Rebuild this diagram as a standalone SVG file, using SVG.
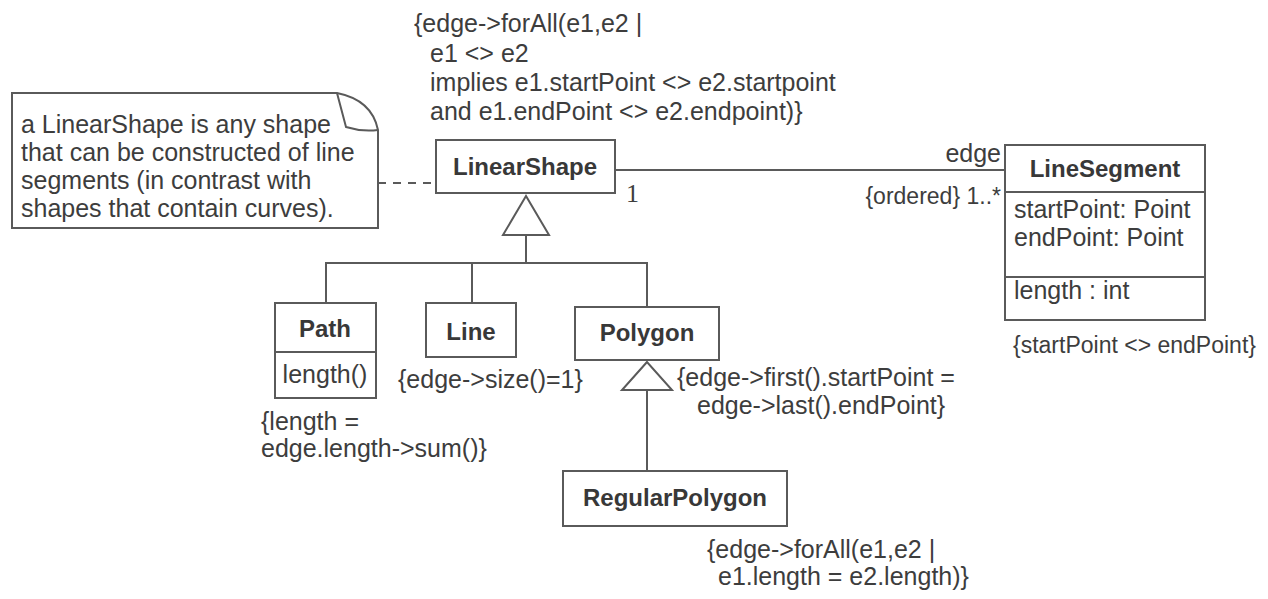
<svg xmlns="http://www.w3.org/2000/svg" width="1268" height="599" viewBox="0 0 1268 599">
<style>
text{font-family:"Liberation Sans",Arial,sans-serif;font-size:25px;fill:#3d3d3d}
.cls{font-weight:bold;font-size:24px;text-anchor:middle;fill:#383838}
.box{fill:#fff;stroke:#5a5a5a;stroke-width:2}
.ln{fill:none;stroke:#5a5a5a;stroke-width:2}
.dash{fill:none;stroke:#5a5a5a;stroke-width:2;stroke-dasharray:8,7}
.tri{fill:#fff;stroke:#5a5a5a;stroke-width:2}
.num{font-family:"Liberation Serif","Times New Roman",serif;font-size:26px}
.sm{font-size:23px}
</style>
<rect width="1268" height="599" fill="#fff"/>
<g id="connectors">
<line class="dash" x1="378" y1="183" x2="436" y2="183"/>
<line class="ln" x1="615" y1="170" x2="1005" y2="170"/>
<line class="ln" x1="526" y1="235" x2="526" y2="263"/>
<polyline class="ln" points="326,303 326,263 647,263 647,307"/>
<line class="ln" x1="472" y1="263" x2="472" y2="303"/>
<polygon class="tri" points="526,196 503,235 549,235"/>
<line class="ln" x1="647" y1="390" x2="647" y2="471"/>
<polygon class="tri" points="647,362 622,390 672,390"/>
<text class="num" x="626" y="202">1</text>
<text x="1001" y="162" text-anchor="end">edge</text>
<text class="sm" x="1001" y="204" text-anchor="end">{ordered} 1..*</text>
</g>
<g id="note">
<path class="box" d="M12,93 H337 Q372,100 378,130 V228 H12 Z"/>
<path class="ln" d="M337,93 L346,127 Q362,132 378,130"/>
<text x="21" y="133">a LinearShape is any shape</text>
<text x="21" y="161">that can be constructed of line</text>
<text x="21" y="189">segments (in contrast with</text>
<text x="21" y="217">shapes that contain curves).</text>
</g>
<g id="constraint-top">
<text x="414" y="32">{edge-&gt;forAll(e1,e2 |</text>
<text x="430" y="62">e1 &lt;&gt; e2</text>
<text x="430" y="91">implies e1.startPoint &lt;&gt; e2.startpoint</text>
<text x="430" y="120">and e1.endPoint &lt;&gt; e2.endpoint)}</text>
</g>
<g id="LinearShape">
<rect class="box" x="436" y="140" width="179" height="53"/>
<text class="cls" x="525" y="175">LinearShape</text>
</g>
<g id="LineSegment">
<rect class="box" x="1005" y="145" width="200" height="175"/>
<line class="ln" x1="1005" y1="192" x2="1205" y2="192"/>
<line class="ln" x1="1005" y1="277" x2="1205" y2="277"/>
<text class="cls" x="1105" y="177">LineSegment</text>
<text x="1014" y="218">startPoint: Point</text>
<text x="1014" y="246">endPoint: Point</text>
<text x="1014" y="299">length : int</text>
<text class="sm" x="1013" y="353">{startPoint &lt;&gt; endPoint}</text>
</g>
<g id="Path">
<rect class="box" x="275" y="303" width="101" height="95"/>
<line class="ln" x1="275" y1="352" x2="376" y2="352"/>
<text class="cls" x="325" y="337">Path</text>
<text x="325" y="383" text-anchor="middle">length()</text>
<text x="261" y="430">{length =</text>
<text x="261" y="457">edge.length-&gt;sum()}</text>
</g>
<g id="Line">
<rect class="box" x="426" y="303" width="90" height="54"/>
<text class="cls" x="471" y="340">Line</text>
<text x="398" y="388">{edge-&gt;size()=1}</text>
</g>
<g id="Polygon">
<rect class="box" x="575" y="307" width="144" height="53"/>
<text class="cls" x="647" y="341">Polygon</text>
<text x="677" y="386">{edge-&gt;first().startPoint =</text>
<text x="697" y="414">edge-&gt;last().endPoint}</text>
</g>
<g id="RegularPolygon">
<rect class="box" x="563" y="471" width="224" height="55"/>
<text class="cls" x="675" y="506">RegularPolygon</text>
<text x="707" y="558">{edge-&gt;forAll(e1,e2 |</text>
<text x="718" y="585">e1.length = e2.length)}</text>
</g>
</svg>
